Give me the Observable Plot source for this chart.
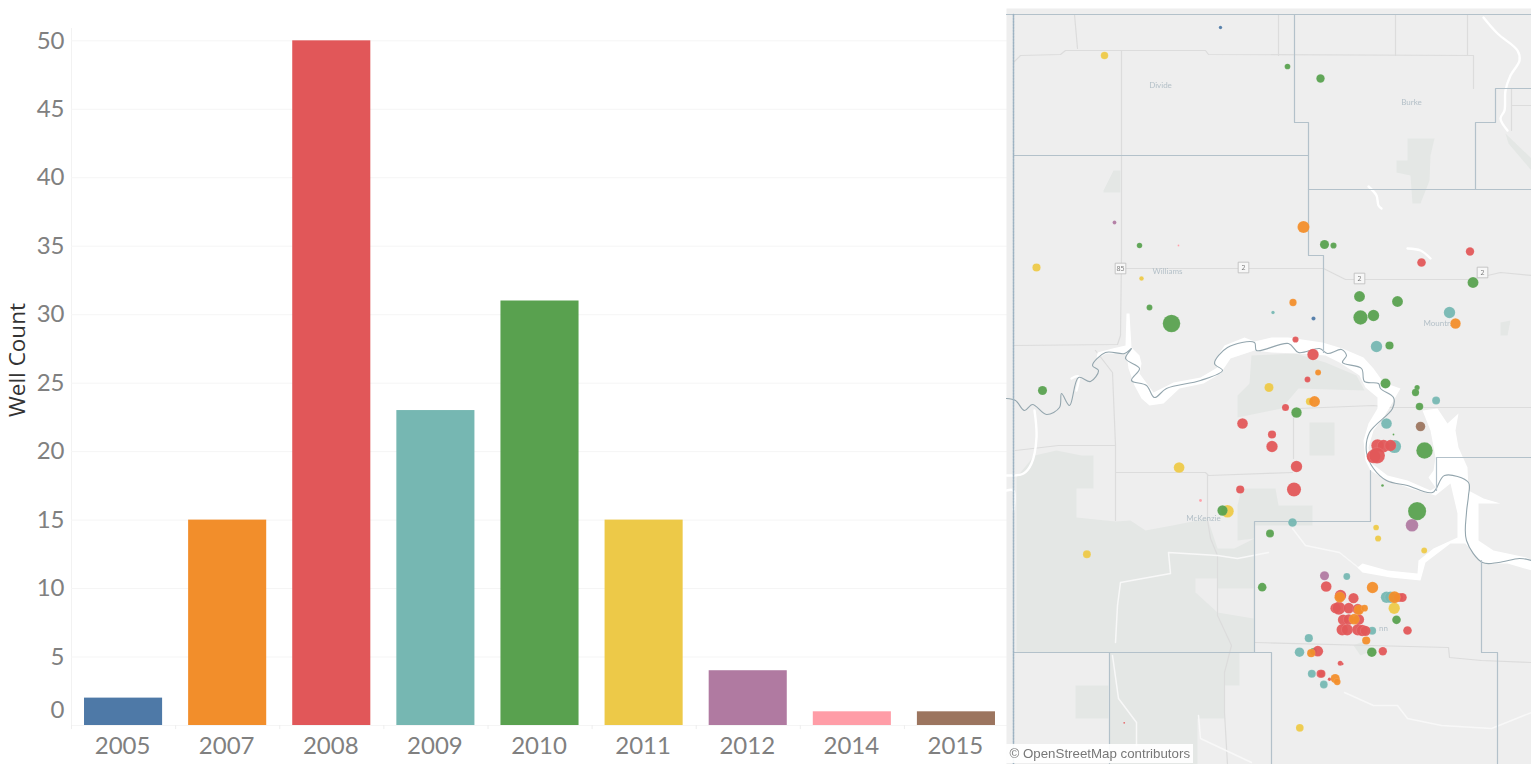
<!DOCTYPE html>
<html>
<head>
<meta charset="utf-8">
<script src="https://cdn.jsdelivr.net/npm/d3@7"></script>
<script src="https://cdn.jsdelivr.net/npm/@observablehq/plot@0.6"></script>
<style>
html,body{margin:0;padding:0;background:#fff;overflow:hidden}
#wrap{position:relative;width:1531px;height:764px}
#wrap>svg{position:absolute;top:0;max-width:none}
</style>
</head>
<body>
<div id="wrap"></div>
<script>
// ---- bar chart data
const years = ["2005","2007","2008","2009","2010","2011","2012","2014","2015"];
const wellCounts = [2,15,50,23,31,15,4,1,1];
const yearColors = ["#4e79a7","#f28e2b","#e15759","#76b7b2","#59a14f","#edc948","#b07aa1","#ff9da7","#9c755f"];
const yTicks = [5,10,15,20,25,30,35,40,45,50];

// ---- well locations: [map x, map y, size]
const wells2011 = [[1104,55,3.3],[1036,267,3.6],[1141,278,2],[1268.5,387,4],[1309,401,3.2],[1178.6,467,4.7],[1227,510.7,5.5],[1375.6,527,2.5],[1377.6,538,2.7],[1423.7,550,2.6],[1086.4,553.7,3.5],[1393.7,607.7,5],[1299.3,727.3,3.4]];
const wells2009 = [[1272.5,312,1.5],[1449,312,5],[1376,346,5],[1435.6,400,3.5],[1386,423,4.7],[1394,446,5.8],[1292,522,3.8],[1346.3,576,3],[1386,596.7,5],[1390,596.7,5],[1371.7,630.3,3.5],[1308.3,637.7,3.6],[1299,651.7,4.2],[1311.3,673.3,3.5],[1323.3,684,3.4]];
const wells2010 = [[1287,66,2.5],[1320,78,3.7],[1139,245,2.4],[1324,244,4],[1333,245,2.7],[1472.5,282,4.8],[1359,296,4.8],[1397,301,4.8],[1149,307,2.6],[1171,323,7.7],[1360,317,6.3],[1373,315,5],[1389,345,3.6],[1385,383,4.4],[1416.6,387,2.3],[1415,392,3.2],[1042,390,4],[1419,406,3.3],[1296,412,4.6],[1393,434,0.8],[1424,450,7.2],[1382,485,1.2],[1222,510,4.5],[1416.6,510.6,8],[1269.5,533,3.5],[1261.7,586.7,3.8],[1396,619.3,3.8],[1313,651,3],[1371.3,651.7,4.2]];
const wells2008 = [[1469.5,251,3.7],[1421,262,3.8],[1295,339,2.7],[1312.5,354,5],[1307,379,2.6],[1285,407,3.1],[1242,423,4.7],[1271.5,434,3.6],[1377,445,5.5],[1383,445.6,5.5],[1390,445,5],[1271.5,446,5],[1373,456,6],[1376.5,455,7],[1296,466,5],[1239.7,489,3.6],[1293.5,489,6.2],[1325.7,586,4.7],[1340,595,5],[1353,597.7,4.5],[1398,597,4],[1401.7,597,4],[1335,607.7,4.5],[1338.3,607.7,5.7],[1348.3,607.7,4.7],[1357.3,608.7,4.7],[1342.7,619.3,4.7],[1348.3,619,4.7],[1358.3,619,4.7],[1341.7,629.3,5],[1346.7,629.3,5],[1357.3,629.3,5],[1361.7,630,5],[1365,630.3,4.5],[1407,630,3.8],[1317.3,650.7,4.7],[1382.3,650.7,3.7],[1339.7,662.7,2.2],[1342,663.5,1],[1320,673.3,3.5],[1321,673.3,3.5],[1329,678.7,1.5],[1123.7,722.3,0.8]];
const wells2012 = [[1114,222,1.7],[1411.5,524.7,5.5],[1324,575.3,4]];
const wells2014 = [[1178,245,0.8],[1200,500,1.3]];
const wells2015 = [[1420,426,4.2]];
const wells2005 = [[1220,27,1.5],[1313,318,1.8]];
const wells2007 = [[1303,226.5,5.3],[1292.5,302,3.2],[1455,323,4.6],[1317.6,372,2.6],[1314,401,4.8],[1372,587,5],[1339.3,596.7,4.7],[1394,596.7,5.2],[1358.3,609.3,4.5],[1364,607.7,3],[1353.7,618.7,4.7],[1365.7,640,3.6],[1310.7,652.7,3.6],[1334.7,678,4],[1336.7,681.3,3]];

// ---- base map features
const darkPatches = [
 [[1251,355],[1295,353],[1325,362],[1356,375],[1364,390],[1298,388],[1281,408],[1237,417],[1237,395],[1249,383]],
 [[1309,422],[1334,422],[1334,455],[1309,455]],
 [[1241,488],[1275,488],[1278,505],[1312,505],[1312,525],[1254,525],[1254,538],[1237,540],[1237,505]],
 [[1016,477],[1034,455],[1056,450],[1081,455],[1093,455],[1093,488],[1076,488],[1076,517],[1115,521],[1130,520],[1145,530],[1172,525],[1207,518],[1217,548],[1234,548],[1254,538],[1254,652],[1016,652]],
 [[1109,652],[1239,652],[1239,685],[1224,685],[1224,718],[1197,718],[1197,764],[1109,764]],
 [[1075,685],[1108,685],[1108,718],[1075,718]],
 [[1407,138],[1434,138],[1430,155],[1429,180],[1420,203],[1412,203],[1410,175],[1396,172],[1396,160],[1407,160]],
 [[1103,190],[1113,170],[1120,170],[1120,192],[1103,192]],
 [[1505,133],[1531,158],[1531,170],[1508,143]],
 [[1500,322],[1510,320],[1507,335],[1500,335]],
 [[1353,645],[1365,640],[1372,650],[1360,655]]
];
const lightPatches = [
 [[1195,578],[1217,578],[1217,588],[1253,588],[1253,618],[1217,612],[1195,592]]
];
const lakeWest = [[1096,358],[1097,352],[1112,348],[1125,345],[1126,313],[1129,313],[1131,347],[1139,355],[1141,363],[1139,373],[1153,392],[1173,382],[1200,377],[1217,367],[1214,360],[1224,345],[1244,337],[1254,341],[1271,337],[1288,337],[1322,342],[1342,348],[1363,357],[1373,368],[1383,382],[1400,388],[1393,400],[1383,417],[1377,408],[1377,397],[1365,387],[1359,375],[1339,362],[1325,355],[1298,353],[1271,352],[1254,350],[1230,358],[1220,373],[1203,383],[1179,388],[1163,403],[1149,405],[1141,398],[1134,385],[1128,368],[1126,353],[1106,353]];
const lakeEast = [[1393,400],[1383,417],[1373,430],[1368,447],[1370,462],[1387,475],[1407,480],[1430,490],[1435,487],[1428,477],[1433,470],[1435,457],[1430,430],[1422,410],[1437,408],[1447,423],[1458,413],[1455,430],[1458,447],[1467,467],[1468,490],[1483,498],[1500,503],[1478,503],[1478,540],[1493,550],[1526,557],[1531,560],[1531,570],[1507,563],[1482,563],[1465,543],[1450,543],[1425,562],[1420,580],[1390,577],[1362,572],[1357,567],[1362,563],[1387,570],[1417,573],[1418,560],[1433,548],[1457,537],[1457,513],[1450,483],[1435,495],[1410,488],[1383,478],[1370,470],[1365,460],[1363,440],[1368,423],[1377,408]];
const missouriRiver = [[1006,398],[1015,400],[1024,410],[1032,404],[1046,414],[1059,407],[1061,393],[1069,405],[1078,377],[1090,381],[1098,370],[1092,365],[1105,352],[1124,353],[1131,348],[1125,358],[1139,368],[1131,380],[1146,385],[1154,397],[1166,388],[1200,380],[1222,370],[1214,363],[1227,347],[1254,342],[1256,350],[1288,343],[1298,352],[1319,348],[1327,353],[1341,349],[1346,355],[1342,362],[1361,368],[1364,381],[1378,383],[1380,388],[1393,397],[1392,408],[1369,432],[1366,452],[1373,468],[1386,480],[1407,485],[1432,492],[1444,475],[1468,482],[1468,495],[1466,512],[1466,540],[1482,562],[1498,562],[1519,558],[1531,560]];
const whiteStreams = [
 [[1034,410],[1036,437],[1031,463],[1023,473],[1006,475]],
 [[1006,490],[1013,490],[1013,510]],
 [[1071,378],[1078,376],[1076,390]],
 [[1483,17],[1497,33],[1517,50],[1519,60],[1510,75],[1505,90],[1504,110],[1500,118],[1507,130]],
 [[1368,186],[1376,195],[1378,205],[1381,208]],
 [[1407,248],[1420,250],[1430,258]]
];
const thinStreams = [
 [[1292,528],[1305,545],[1339,552],[1359,568]],
 [[1115,642],[1117,605],[1120,582],[1170,573],[1168,552],[1217,555],[1237,558],[1268,552]],
 [[1112,655],[1118,698],[1136,722],[1136,745]],
 [[1344,692],[1373,705],[1397,705],[1407,718],[1441,725],[1491,728],[1531,712]],
 [[1198,715],[1200,738],[1251,762]]
];
const countyLines = [
 [[1006,14],[1531,14]],
 [[1294,14],[1294,122],[1308,122],[1308,255],[1323,255],[1323,352]],
 [[1013,155],[1308,155]],
 [[1308,189],[1531,189]],
 [[1475,189],[1475,122],[1495,122],[1495,88],[1531,88]],
 [[1370,470],[1370,521],[1254,521],[1254,652]],
 [[1013,652],[1271,652],[1271,764]],
 [[1109,652],[1109,764]],
 [[1436,490],[1436,457],[1531,457]],
 [[1481,560],[1481,652],[1497,652],[1497,764]]
];
const roads = [
 [[1074,14],[1077,48]],
 [[1013,62],[1020,55],[1060,54],[1065,50],[1205,50],[1208,54],[1473,55],[1473,88]],
 [[1278,14],[1278,55]],[[1395,14],[1395,55]],[[1467,14],[1467,55]],
 [[1121,50],[1121,255],[1120,335],[1117,344],[1013,345]],
 [[1120,268],[1323,268],[1345,279],[1470,279],[1500,272],[1531,275]],
 [[1095,350],[1112,372],[1115,445],[1115,520]],
 [[1015,450],[1058,445],[1115,445]],
 [[1115,472],[1205,472],[1208,475],[1292,472]],
 [[1207,475],[1207,520],[1210,538],[1217,555],[1217,615],[1231,645],[1224,672],[1224,712],[1227,764]],
 [[1293,412],[1293,458]],
 [[1298,408],[1373,405],[1390,407],[1531,407]],
 [[1254,642],[1448,647],[1449,657],[1481,660],[1531,662]],
 [[1511,88],[1511,130]],[[1511,105],[1531,105]]
];
const placeNames = ["Divide","Burke","Williams","Mountr.","McKenzie","nn"];
const placeX = [1160,1411,1167,1437,1203,1383];
const placeY = [85,102,271,323,518,628];
const routeNames = ["85","2","2","2"];
const routeX = [1120,1243,1359,1482];
const routeY = [268,267,278,272];
const attribution = "© OpenStreetMap contributors";

// ---- tables for the library
const bars = years.map((year,i)=>({year,count:wellCounts[i]}));
const colorScale = {type:"ordinal",domain:years,range:yearColors};
const wellGroups = [["2011",wells2011],["2009",wells2009],["2010",wells2010],["2008",wells2008],["2012",wells2012],["2014",wells2014],["2015",wells2015],["2005",wells2005],["2007",wells2007]];
const wells = wellGroups.flatMap(([year,list])=>list.map(([x,y,r])=>({year,x,y,r})));
const places = placeNames.map((name,i)=>({name,x:placeX[i],y:placeY[i]}));
const routes = routeNames.map((name,i)=>({name,x:routeX[i],y:routeY[i]}));

const px = d=>d[0], py = d=>d[1];
const axisFont = {fontFamily:"Lato, 'Open Sans', sans-serif",fontSize:24,fill:"#808080"};

const barChart = Plot.plot({
  width:1008,height:764,marginLeft:71,marginRight:0,marginTop:28,marginBottom:39,
  style:{background:"transparent"},
  x:{domain:years,paddingInner:0.25,paddingOuter:0.125,round:false,label:null,axis:null},
  y:{domain:[0,50.9],label:null,axis:null},
  color:colorScale,
  marks:[
    Plot.frame({anchor:"left",stroke:"#f2f2f2"}),
    Plot.ruleY([0,...yTicks],{stroke:"#f5f5f5"}),
    Plot.barY(bars,{x:"year",y:"count",fill:"year"}),
    Plot.ruleX(years,{x:d=>d,dx:-52,y1:0,y2:-0.3,stroke:"#eeeeee"}),
    Plot.axisX({anchor:"bottom",tickSize:0,tickPadding:11,label:null,dx:-1,...axisFont}),
    Plot.axisY({anchor:"left",ticks:yTicks,tickSize:0,tickPadding:7,label:null,...axisFont}),
    Plot.axisY({anchor:"left",ticks:[0],tickSize:0,tickPadding:7,label:null,dy:-15,...axisFont}),
    Plot.text(["Well Count"],{frameAnchor:"left",textAnchor:"middle",rotate:-90,dx:-54,dy:-17,fontFamily:"'Open Sans', sans-serif",fontSize:22.5,fill:"#333"})
  ]
});

const poly = (shapes,fill)=>shapes.map(s=>Plot.line(s,{x:px,y:py,fill,stroke:"none"}));
const lines = (shapes,stroke,strokeWidth,curve="linear",extra={})=>shapes.map(s=>Plot.line(s,{x:px,y:py,stroke,strokeWidth,curve,...extra}));

const mapChart = Plot.plot({
  width:525,height:764,marginLeft:0,marginRight:0,marginTop:8,marginBottom:0,
  style:{background:"transparent",left:"1006px",filter:"blur(0.45px)"},
  x:{domain:[1006,1531],axis:null},
  y:{domain:[764,8],axis:null},
  r:{type:"identity"},
  color:colorScale,
  marks:[
    Plot.frame({fill:"#eeeeee",stroke:"none"}),
    ...poly(darkPatches,"#e4e7e5"),
    ...poly(lightPatches,"#ededed"),
    ...lines(roads,"#dcdcdc",1.2),
    ...lines(thinStreams,"#f8f8f8",1.5),
    ...poly([lakeWest,lakeEast],"#ffffff"),
    ...lines(whiteStreams,"#ffffff",2.4,"catmull-rom"),
    Plot.line(missouriRiver,{x:px,y:py,stroke:"#94a6ae",strokeWidth:1.1,curve:"catmull-rom"}),
    ...lines(countyLines,"#b3c1ca",1.2),
    Plot.line([[1013,14],[1013,764]],{x:px,y:py,stroke:"#9db2c2",strokeWidth:1.6,strokeDasharray:"2 1"}),
    Plot.text(places,{x:"x",y:"y",text:"name",fontFamily:"Lato, sans-serif",fontSize:8,fill:"#b4c0c8"}),
    Plot.dot(routes,{x:"x",y:"y",symbol:"square",r:6,fill:"#f7f7f7",stroke:"#bbbbbb",strokeWidth:0.8}),
    Plot.text(routes,{x:"x",y:"y",text:"name",fontFamily:"'Open Sans', sans-serif",fontSize:7,fill:"#777"}),
    Plot.dot(wells,{x:"x",y:"y",r:d=>d.r*1.14,fill:"year",fillOpacity:0.95,stroke:"#ffffff",strokeOpacity:0.2,strokeWidth:0.5,sort:null}),
    Plot.rect([attribution],{x1:()=>1006,x2:()=>1193,y1:()=>744,y2:()=>763,fill:"#ffffff",fillOpacity:0.92}),
    Plot.text([attribution],{x:()=>1009,y:()=>753,text:d=>d,textAnchor:"start",fontFamily:"'Liberation Sans', Arial, sans-serif",fontSize:13.3,fill:"#777"})
  ]
});

const wrap = document.getElementById("wrap");
barChart.style.left = "0px";
wrap.append(barChart, mapChart);
</script>
</body>
</html>
